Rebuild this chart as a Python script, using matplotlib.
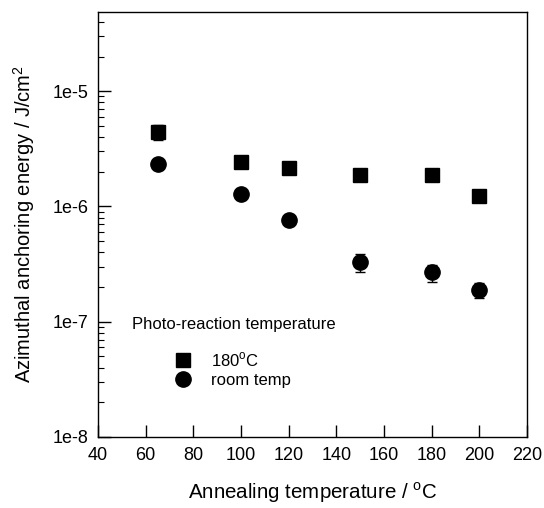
import math
import matplotlib
matplotlib.use("Agg")
import matplotlib.pyplot as plt
from matplotlib.ticker import FixedLocator, FuncFormatter, LogLocator, NullFormatter
from matplotlib.lines import Line2D

plt.rcParams['font.family'] = ['Liberation Sans', 'DejaVu Sans']
plt.rcParams['mathtext.fontset'] = 'custom'
plt.rcParams['mathtext.rm'] = 'Liberation Sans'

# data
anneal_180 = [65, 100, 120, 150, 180, 200]
energy_180 = [4.4e-6, 2.45e-6, 2.15e-6, 1.87e-6, 1.87e-6, 1.22e-6]
err_180 = [0.65e-6, 0.1e-6, 0.1e-6, 0.08e-6, 0.08e-6, 0.06e-6]

anneal_rt = [65, 100, 120, 150, 180, 200]
energy_rt = [2.35e-6, 1.28e-6, 7.55e-7, 3.3e-7, 2.68e-7, 1.9e-7]
err_rt = [0.1e-6, 0.05e-6, 0.03e-7, 0.58e-7, 0.45e-7, 0.28e-7]

xticks = [40, 60, 80, 100, 120, 140, 160, 180, 200, 220]
yticks = [1e-8, 1e-7, 1e-6, 1e-5]

fig = plt.figure(figsize=(5.44, 5.08), dpi=100)
ax = fig.add_axes([0.180, 0.140, 0.789, 0.837])

ax.errorbar(anneal_180, energy_180, yerr=err_180, fmt='s', color='black',
            ms=9.5, capsize=3.5, elinewidth=1, capthick=1)
ax.errorbar(anneal_rt, energy_rt, yerr=err_rt, fmt='o', color='black',
            ms=11, capsize=3.5, elinewidth=1, capthick=1)

ax.set_yscale('log')
ax.set_xlim(40, 220)
ax.set_ylim(1e-8, 4.9e-5)

ax.xaxis.set_major_locator(FixedLocator(xticks))
ax.yaxis.set_major_locator(FixedLocator(yticks))
ax.yaxis.set_major_formatter(FuncFormatter(lambda v, p: '1e%d' % round(math.log10(v))))
ax.yaxis.set_minor_locator(LogLocator(base=10, subs=range(2, 10)))
ax.yaxis.set_minor_formatter(NullFormatter())

ax.tick_params(axis='both', which='major', direction='in', length=9, width=1,
               labelsize=13, top=False, right=False, pad=7)
ax.tick_params(axis='y', which='minor', direction='in', length=4.5, width=0.8, right=False)

for s in ax.spines.values():
    s.set_linewidth(1)

ax.set_xlabel('Annealing temperature / $^{\\rm o}$C', fontsize=14.8, labelpad=12)
ax.set_ylabel('Azimuthal anchoring energy / J/cm$^2$', fontsize=14.5, labelpad=11)

# legend
ax.text(0.0785, 0.2635, 'Photo-reaction temperature', transform=ax.transAxes,
        fontsize=12, va='center', ha='left')
handles = [Line2D([], [], marker='s', ls='none', color='black', ms=9.5),
           Line2D([], [], marker='o', ls='none', color='black', ms=11)]
ax.legend(handles, ['180$^{\\rm o}$C', 'room temp'], loc='upper left',
          bbox_to_anchor=(0.175, 0.2035), frameon=False, fontsize=12,
          handlelength=1.2, handletextpad=1.1, labelspacing=0.25,
          borderpad=0, borderaxespad=0)

fig.savefig('out.png', dpi=100)
